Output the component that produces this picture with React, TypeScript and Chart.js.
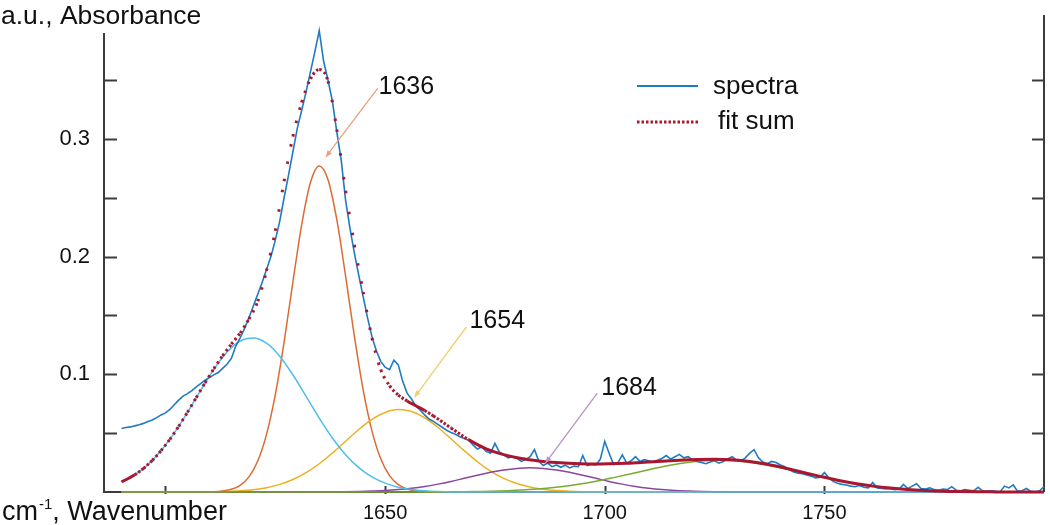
import React, { useEffect, useRef } from "react";
import { Chart, registerables } from "chart.js";

Chart.register(...registerables);

// ---------- data ----------
const SPECTRUM_START = 1590; // wavenumber of first spectrum sample, 1 cm-1 steps
const SPECTRUM_Y = [
  0.054, 0.0548, 0.0553, 0.0562, 0.0572, 0.0583, 0.0598, 0.0612, 0.0632, 0.0655,
  0.0672, 0.0701, 0.0742, 0.0781, 0.0815, 0.0836, 0.0862, 0.0893, 0.0921, 0.095,
  0.0972, 0.0995, 0.1015, 0.105, 0.1085, 0.1135, 0.124, 0.131, 0.139, 0.148,
  0.158, 0.168, 0.178, 0.189, 0.2, 0.214, 0.23, 0.25, 0.269, 0.289,
  0.309, 0.324, 0.34, 0.357, 0.374, 0.392, 0.366, 0.35, 0.332, 0.306,
  0.282, 0.248, 0.224, 0.203, 0.184, 0.166, 0.148, 0.132, 0.12, 0.111,
  0.106, 0.104, 0.112, 0.108, 0.094, 0.084, 0.079, 0.073, 0.0695, 0.0655,
  0.062, 0.06, 0.0575, 0.055, 0.0525, 0.0505, 0.049, 0.047, 0.0455, 0.044,
  0.04, 0.0365, 0.0385, 0.0345, 0.033, 0.0413, 0.034, 0.0315, 0.029, 0.03,
  0.0285, 0.026, 0.0275, 0.03, 0.036, 0.026, 0.0225, 0.0245, 0.0215, 0.023,
  0.021, 0.0228, 0.0205, 0.022, 0.0215, 0.031, 0.0225, 0.0235, 0.023, 0.028,
  0.043, 0.033, 0.0235, 0.025, 0.0315, 0.0245, 0.0265, 0.03, 0.026, 0.0275,
  0.0265, 0.0255, 0.027, 0.0285, 0.031, 0.028, 0.03, 0.032, 0.029, 0.03,
  0.027, 0.026, 0.025, 0.024, 0.0255, 0.0265, 0.0245, 0.026, 0.028, 0.03,
  0.027, 0.0265, 0.029, 0.033, 0.036, 0.029, 0.0255, 0.024, 0.026, 0.025,
  0.023, 0.0215, 0.019, 0.017, 0.016, 0.0155, 0.0145, 0.0135, 0.012, 0.0125,
  0.0165, 0.012, 0.009, 0.0075, 0.0065, 0.006, 0.005, 0.0045, 0.0055, 0.004,
  0.0035, 0.008, 0.0035, 0.003, 0.0025, 0.003, 0.002, 0.0025, 0.0065, 0.003,
  0.005, 0.007, 0.003, 0.0025, 0.0035, 0.002, 0.0015, 0.0025, 0.002, 0.0045,
  0.0015, 0.001, 0.002, 0.0015, 0.001, 0.004, 0.001, 0.0005, 0.001, 0.0005,
  0, 0.005, 0.0035, 0.006, 0.0005, 0.001, 0.003, 0.0005, 0, 0.001,
  0.0045,
];
const SPECTRUM_X = SPECTRUM_Y.map((_, i) => SPECTRUM_START + i);

const FIT_X = [
  1590, 1591, 1593, 1595, 1597, 1599, 1601, 1603, 1605, 1607, 1609, 1611, 1613, 1615, 1617,
  1619, 1621, 1623, 1625, 1627, 1629, 1631, 1633, 1635, 1637, 1639, 1641, 1643, 1645, 1647,
  1649, 1651, 1653, 1655, 1657, 1659, 1661, 1665, 1669, 1673, 1677, 1681, 1685, 1689, 1693,
  1697, 1701, 1705, 1709, 1713, 1717, 1721, 1725, 1729, 1733, 1737, 1741, 1745, 1749, 1753,
  1757, 1761, 1765, 1769, 1773, 1777, 1781, 1785, 1789, 1793, 1797, 1800,
];
const FIT_Y = [
  0.0087, 0.0104, 0.0146, 0.0201, 0.0269, 0.0352, 0.0448, 0.0558, 0.0677, 0.0802, 0.0927, 0.1047, 0.1157, 0.1256, 0.1351,
  0.147, 0.162, 0.188, 0.222, 0.264, 0.302, 0.331, 0.351, 0.359, 0.349, 0.308, 0.256, 0.21, 0.17, 0.131,
  0.104, 0.0904, 0.0824, 0.0774, 0.0733, 0.0692, 0.0646, 0.0544, 0.0445, 0.0367, 0.0318, 0.0285, 0.0264, 0.025, 0.0242,
  0.0238, 0.024, 0.0245, 0.0253, 0.0262, 0.027, 0.0276, 0.0278, 0.0274, 0.026, 0.0236, 0.0204, 0.0168, 0.0133, 0.01,
  0.0072, 0.005, 0.0033, 0.0021, 0.0013, 0.0007, 0.0004, 0.0002, 0.0001, 0, 0, 0,
];

// band 1620 (cyan)
const CYAN_X = [1590, 1593, 1596, 1599, 1602, 1605, 1608, 1611, 1614, 1617, 1620, 1623, 1626, 1629, 1632, 1635, 1638, 1641, 1644, 1647, 1650, 1653, 1656, 1659, 1662, 1668, 1800];
const CYAN_Y = [0.0087, 0.0146, 0.0233, 0.0352, 0.0502, 0.0677, 0.0863, 0.1042, 0.1189, 0.1283, 0.1309, 0.1264, 0.1154, 0.0996, 0.0813, 0.0628, 0.0459, 0.0317, 0.0207, 0.0128, 0.0075, 0.0041, 0.0022, 0.0011, 0.0005, 0, 0];

// band 1636 (orange)
const ORANGE_X = [1590, 1605, 1611, 1613, 1615, 1617, 1619, 1621, 1623, 1625, 1627, 1629, 1631, 1633, 1635, 1637, 1639, 1641, 1643, 1645, 1647, 1649, 1651, 1653, 1655, 1657, 1659, 1665, 1800];
const ORANGE_Y = [0, 0, 0.0003, 0.0009, 0.0023, 0.0057, 0.0129, 0.0263, 0.049, 0.0828, 0.1274, 0.1783, 0.227, 0.2629, 0.277, 0.2654, 0.2314, 0.1835, 0.1324, 0.0868, 0.0519, 0.0282, 0.0139, 0.0063, 0.0026, 0.001, 0.0003, 0, 0];

// band 1654 (yellow)
const YELLOW_X = [1590, 1608, 1614, 1617, 1620, 1623, 1626, 1629, 1632, 1635, 1638, 1641, 1644, 1647, 1650, 1653, 1656, 1659, 1662, 1665, 1668, 1671, 1674, 1677, 1680, 1683, 1686, 1689, 1692, 1695, 1702, 1800];
const YELLOW_Y = [0, 0, 0.0005, 0.001, 0.002, 0.0037, 0.0065, 0.0106, 0.0164, 0.024, 0.0331, 0.0431, 0.0531, 0.0617, 0.0676, 0.07, 0.0684, 0.0631, 0.055, 0.0452, 0.0351, 0.0257, 0.0178, 0.0116, 0.0072, 0.0042, 0.0023, 0.0012, 0.0006, 0.0003, 0, 0];

// band 1684 (purple)
const PURPLE_X = [1590, 1634, 1641, 1644, 1647, 1650, 1653, 1656, 1659, 1662, 1665, 1668, 1671, 1674, 1677, 1680, 1683, 1686, 1689, 1692, 1695, 1698, 1701, 1704, 1707, 1710, 1713, 1716, 1719, 1722, 1725, 1732, 1800];
const PURPLE_Y = [0, 0, 0.0002, 0.0004, 0.0008, 0.0013, 0.0021, 0.0032, 0.0047, 0.0067, 0.009, 0.0116, 0.0142, 0.0167, 0.0187, 0.02, 0.0205, 0.02, 0.0187, 0.0167, 0.0142, 0.0116, 0.009, 0.0067, 0.0047, 0.0032, 0.0021, 0.0013, 0.0008, 0.0004, 0.0002, 0, 0];

// band ~1726 (green)
const GREEN_X = [1590, 1662, 1670, 1674, 1678, 1682, 1686, 1690, 1694, 1698, 1702, 1706, 1710, 1714, 1718, 1722, 1726, 1730, 1734, 1738, 1742, 1746, 1750, 1754, 1758, 1762, 1766, 1770, 1774, 1778, 1782, 1786, 1794, 1800];
const GREEN_Y = [0, 0, 0.0004, 0.0006, 0.0011, 0.0019, 0.0029, 0.0045, 0.0065, 0.0091, 0.0122, 0.0155, 0.0189, 0.0221, 0.0247, 0.0264, 0.027, 0.0264, 0.0247, 0.0221, 0.0189, 0.0155, 0.0122, 0.0091, 0.0065, 0.0045, 0.0029, 0.0019, 0.0011, 0.0006, 0.0004, 0.0002, 0, 0];

// axes
const X_MIN = 1586;
const X_MAX = 1800;
const Y_MIN = 0;
const Y_MAX = 0.39;
const X_TICK_LABELS = [1650, 1700, 1750];
const X_TICK_MARKS = [1600, 1650, 1700, 1750];
const Y_TICK_LABELS = [0.1, 0.2, 0.3];
const Y_TICK_MARKS = [0.05, 0.1, 0.15, 0.2, 0.25, 0.3, 0.35];

// peak annotations (text anchor, arrow start, arrow tip in data units)
const ANNOTATIONS = [
  { label: "1636", color: "#E8A07E", tx: 1648.5, ty: 0.338, fx: 1648.3, fy: 0.343, ex: 1636.5, ey: 0.2847 },
  { label: "1654", color: "#EFCF70", tx: 1669.2, ty: 0.1394, fx: 1668.5, fy: 0.1402, ex: 1656.7, ey: 0.0807 },
  { label: "1684", color: "#B493C6", tx: 1699.2, ty: 0.0824, fx: 1698.3, fy: 0.0841, ex: 1686.5, ey: 0.0246 },
];

const LEGEND_LABELS = ["spectra", "fit sum"];

// ---------- styles ----------
const FONT = '"Liberation Sans", Arial, sans-serif';
const AXIS_COLOR = "#3c3c3c";
const C_SPECTRA = "#1F7BC0";
const C_FIT = "#A8162F";
const C_CYAN = "#4DBEEE";
const C_ORANGE = "#DD6A33";
const C_YELLOW = "#EDB120";
const C_PURPLE = "#8B45A0";
const C_GREEN = "#77AC30";

const pts = (xs: number[], ys: number[]) => xs.map((x, i) => ({ x, y: ys[i] }));

const decorPlugin = {
  id: "decor",
  beforeDatasetsDraw(chart: any) {
    const { ctx, chartArea: a, scales } = chart;
    const x = scales.x;
    const y = scales.y;
    ctx.save();
    ctx.strokeStyle = AXIS_COLOR;
    ctx.lineWidth = 2;
    ctx.beginPath();
    ctx.moveTo(a.left, a.top);
    ctx.lineTo(a.left, a.bottom);
    ctx.lineTo(a.right, a.bottom);
    ctx.moveTo(a.right, a.top - 18);
    ctx.lineTo(a.right, a.bottom);
    for (const v of Y_TICK_MARKS) {
      const py = Math.round(y.getPixelForValue(v)) + 0.5;
      ctx.moveTo(a.left, py);
      ctx.lineTo(a.left + 13, py);
      ctx.moveTo(a.right, py);
      ctx.lineTo(a.right - 12, py);
    }
    for (const v of X_TICK_MARKS) {
      const px = Math.round(x.getPixelForValue(v)) + 0.5;
      ctx.moveTo(px, a.bottom - 6);
      ctx.lineTo(px, a.bottom + 2);
    }
    ctx.stroke();
    ctx.restore();
  },
  afterDraw(chart: any) {
    const { ctx, chartArea: a, scales } = chart;
    const x = scales.x;
    const y = scales.y;
    ctx.save();
    ctx.fillStyle = "#111";
    ctx.textBaseline = "alphabetic";
    ctx.textAlign = "left";
    // y title
    ctx.font = `26.5px ${FONT}`;
    ctx.fillText("a.u., Absorbance", 1, 24);
    // x title with superscript
    let cx = 2;
    const by = 520;
    ctx.font = `27px ${FONT}`;
    ctx.fillText("cm", cx, by);
    cx += ctx.measureText("cm").width + 1;
    ctx.font = `15px ${FONT}`;
    ctx.fillText("-1", cx, by - 11);
    cx += ctx.measureText("-1").width;
    ctx.font = `27px ${FONT}`;
    ctx.fillText(", Wavenumber", cx, by);

    // legend
    const lx0 = a.left + 533;
    const lx1 = a.left + 594;
    ctx.lineWidth = 2;
    ctx.strokeStyle = C_SPECTRA;
    ctx.beginPath();
    ctx.moveTo(lx0, 86);
    ctx.lineTo(lx1, 86);
    ctx.stroke();
    ctx.strokeStyle = C_FIT;
    ctx.lineWidth = 3;
    ctx.setLineDash([2.5, 2]);
    ctx.beginPath();
    ctx.moveTo(lx0, 122);
    ctx.lineTo(lx1, 122);
    ctx.stroke();
    ctx.setLineDash([]);
    ctx.font = `26px ${FONT}`;
    ctx.fillStyle = "#111";
    ctx.fillText(LEGEND_LABELS[0], 713, 94);
    ctx.fillText(LEGEND_LABELS[1], 718, 129);

    // annotations
    for (const an of ANNOTATIONS) {
      const fx = x.getPixelForValue(an.fx);
      const fy = y.getPixelForValue(an.fy);
      const ex = x.getPixelForValue(an.ex);
      const ey = y.getPixelForValue(an.ey);
      ctx.strokeStyle = an.color;
      ctx.fillStyle = an.color;
      ctx.lineWidth = 1.3;
      ctx.beginPath();
      ctx.moveTo(fx, fy);
      ctx.lineTo(ex, ey);
      ctx.stroke();
      const ang = Math.atan2(ey - fy, ex - fx);
      const hl = 7;
      const hw = 0.4;
      ctx.beginPath();
      ctx.moveTo(ex, ey);
      ctx.lineTo(ex - hl * Math.cos(ang - hw), ey - hl * Math.sin(ang - hw));
      ctx.lineTo(ex - hl * Math.cos(ang + hw), ey - hl * Math.sin(ang + hw));
      ctx.closePath();
      ctx.fill();
      ctx.fillStyle = "#111";
      ctx.font = `25px ${FONT}`;
      ctx.fillText(an.label, x.getPixelForValue(an.tx), y.getPixelForValue(an.ty));
    }
    ctx.restore();
  },
};

const fitDash = (c: any) => {
  const dx = Math.abs(c.p1.x - c.p0.x);
  const dy = Math.abs(c.p1.y - c.p0.y);
  const s = dx === 0 ? 10 : dy / dx;
  if (s < 0.6) return [];
  const spacing = 3.4 * Math.sqrt(1 + s * s);
  return [2.5, Math.max(1.2, spacing - 2.5)];
};

export default function App() {
  const ref = useRef<HTMLCanvasElement>(null);

  useEffect(() => {
    if (!ref.current) return;
    const component = (label: string, xs: number[], ys: number[], color: string, order: number) => ({
      label,
      data: pts(xs, ys),
      borderColor: color,
      borderWidth: 1.5,
      pointRadius: 0,
      cubicInterpolationMode: "monotone" as const,
      fill: false,
      clip: false as any,
      order,
    });
    const chart = new Chart(ref.current, {
      type: "line",
      data: {
        datasets: [
          {
            label: "fit sum",
            data: pts(FIT_X, FIT_Y),
            borderColor: C_FIT,
            borderWidth: 3,
            pointRadius: 0,
            cubicInterpolationMode: "monotone",
            fill: false,
            clip: false as any,
            order: 0,
            segment: { borderDash: fitDash },
          } as any,
          {
            label: "spectra",
            data: pts(SPECTRUM_X, SPECTRUM_Y),
            borderColor: C_SPECTRA,
            borderWidth: 1.6,
            pointRadius: 0,
            tension: 0,
            fill: false,
            clip: false as any,
            order: 1,
          },
          component("1620", CYAN_X, CYAN_Y, C_CYAN, 2),
          component("1726", GREEN_X, GREEN_Y, C_GREEN, 3),
          component("1684", PURPLE_X, PURPLE_Y, C_PURPLE, 4),
          component("1654", YELLOW_X, YELLOW_Y, C_YELLOW, 5),
          component("1636", ORANGE_X, ORANGE_Y, C_ORANGE, 6),
        ],
      },
      options: {
        animation: false,
        responsive: false,
        events: [],
        layout: { padding: { top: 33, right: 6, left: 0, bottom: 0 } },
        plugins: { legend: { display: false }, tooltip: { enabled: false } },
        scales: {
          x: {
            type: "linear",
            min: X_MIN,
            max: X_MAX,
            grid: { display: false, drawTicks: false },
            border: { display: false },
            afterBuildTicks: (axis: any) => {
              axis.ticks = X_TICK_LABELS.map((v) => ({ value: v }));
            },
            afterFit: (axis: any) => {
              axis.height = 33;
            },
            ticks: {
              padding: 9,
              color: "#111",
              font: { family: FONT, size: 20 },
              maxRotation: 0,
              autoSkip: false,
              callback: (v: any) => String(v),
            },
          },
          y: {
            type: "linear",
            min: Y_MIN,
            max: Y_MAX,
            grid: { display: false, drawTicks: false },
            border: { display: false },
            afterBuildTicks: (axis: any) => {
              axis.ticks = Y_TICK_LABELS.map((v) => ({ value: v }));
            },
            afterFit: (axis: any) => {
              axis.width = 104;
            },
            ticks: {
              padding: 14,
              color: "#111",
              font: { family: FONT, size: 22 },
              autoSkip: false,
              callback: (v: any) => Number(v).toFixed(1),
            },
          },
        },
      },
      plugins: [decorPlugin],
    });
    return () => chart.destroy();
  }, []);

  return (
    <div style={{ position: "fixed", left: 0, top: 0, width: 1050, height: 525, background: "#fff" }}>
      <canvas ref={ref} width={1050} height={525} style={{ display: "block", width: 1050, height: 525 }} />
    </div>
  );
}
